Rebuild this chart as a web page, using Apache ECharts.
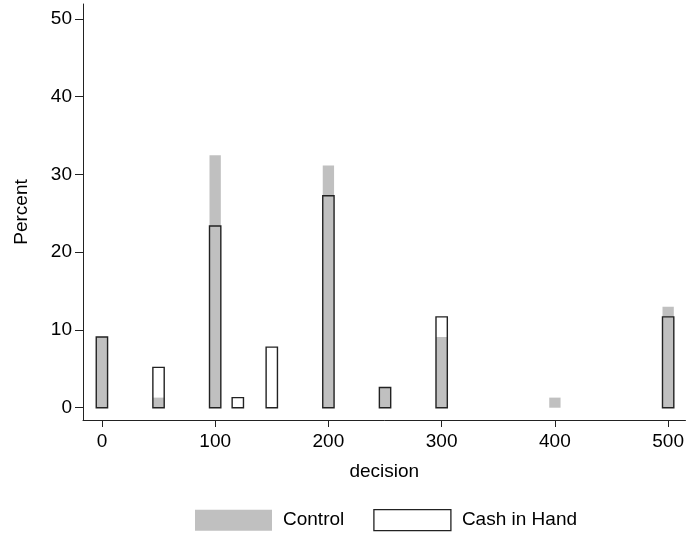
<!DOCTYPE html>
<html>
<head>
<meta charset="utf-8">
<script src="https://cdn.jsdelivr.net/npm/echarts@6/dist/echarts.min.js"></script>
<style>
  html, body { margin: 0; padding: 0; background: #fff; }
  #hist-chart { width: 687px; height: 538px; }
</style>
</head>
<body>
<div id="hist-chart"></div>
<script>
// decision values (bin centres) and percent per group
const decisions = [0, 50, 100, 120, 150, 200, 250, 300, 400, 500];
const controlPct = [9.09, 1.30, 32.47, 0, 0, 31.17, 2.60, 9.09, 1.30, 12.99];
const cashPct = [9.09, 5.19, 23.38, 1.30, 7.79, 27.27, 2.60, 11.69, 0, 11.69];
const xTicks = [0, 100, 200, 300, 400, 500];
const yTicks = [0, 10, 20, 30, 40, 50];
const binHalf = 5;

const font = 'Liberation Sans, Arial, sans-serif';

function barRenderer (style) {
  return function (params, api) {
    const x = api.value(0);
    const y = api.value(1);
    if (!y) return null;
    const p1 = api.coord([x - binHalf, y]);
    const p2 = api.coord([x + binHalf, 0]);
    return {
      type: 'rect',
      shape: { x: p1[0], y: p1[1], width: p2[0] - p1[0], height: p2[1] - p1[1] },
      style: style
    };
  };
}

let chart = echarts.init(document.getElementById('hist-chart'));
chart.setOption({
  animation: false,
  textStyle: { fontFamily: font, color: '#000' },
  grid: { left: 83, right: 0, top: 4, bottom: 118, containLabel: false },
  xAxis: {
    type: 'value',
    min: -16.7,
    max: 515.3,
    name: 'decision',
    nameLocation: 'middle',
    nameGap: 42,
    nameTextStyle: { fontSize: 19, color: '#000', fontFamily: font },
    splitLine: { show: false },
    axisLine: { show: true, onZero: false, lineStyle: { color: '#222', width: 1 } },
    axisTick: { show: true, length: 7, customValues: xTicks, lineStyle: { color: '#222' } },
    axisLabel: { customValues: xTicks, fontSize: 19, color: '#000', margin: 12, fontFamily: font }
  },
  yAxis: {
    type: 'value',
    min: -1.58,
    max: 51.93,
    name: 'Percent',
    nameLocation: 'middle',
    nameRotate: 90,
    nameGap: 52,
    nameTextStyle: { fontSize: 19, color: '#000', fontFamily: font },
    splitLine: { show: false },
    axisLine: { show: true, onZero: false, lineStyle: { color: '#222', width: 1 } },
    axisTick: { show: true, length: 8, customValues: yTicks, lineStyle: { color: '#222' } },
    axisLabel: { customValues: yTicks, fontSize: 19, color: '#000', margin: 11, fontFamily: font }
  },
  legend: {
    left: 195,
    top: 509,
    padding: 0,
    itemWidth: 77,
    itemHeight: 21,
    itemGap: 29,
    textStyle: { fontSize: 19, color: '#000', fontFamily: font, padding: [0, 0, 0, 6] },
    data: [
      { name: 'Control', icon: 'rect', itemStyle: { color: '#c0c0c0', borderWidth: 0 } },
      { name: 'Cash in Hand', icon: 'rect', itemStyle: { color: '#fff', borderColor: '#222', borderWidth: 1.3 } }
    ]
  },
  series: [
    {
      name: 'Control',
      type: 'custom',
      renderItem: barRenderer({ fill: '#c0c0c0' }),
      itemStyle: { color: '#c0c0c0' },
      encode: { x: 0, y: 1 },
      data: decisions.map((d, i) => [d, controlPct[i]])
    },
    {
      name: 'Cash in Hand',
      type: 'custom',
      renderItem: barRenderer({ fill: 'none', stroke: '#222', lineWidth: 1.4 }),
      itemStyle: { color: '#fff', borderColor: '#222' },
      encode: { x: 0, y: 1 },
      data: decisions.map((d, i) => [d, cashPct[i]])
    }
  ]
});
window.addEventListener('resize', () => { chart.resize(); });
</script>
</body>
</html>
